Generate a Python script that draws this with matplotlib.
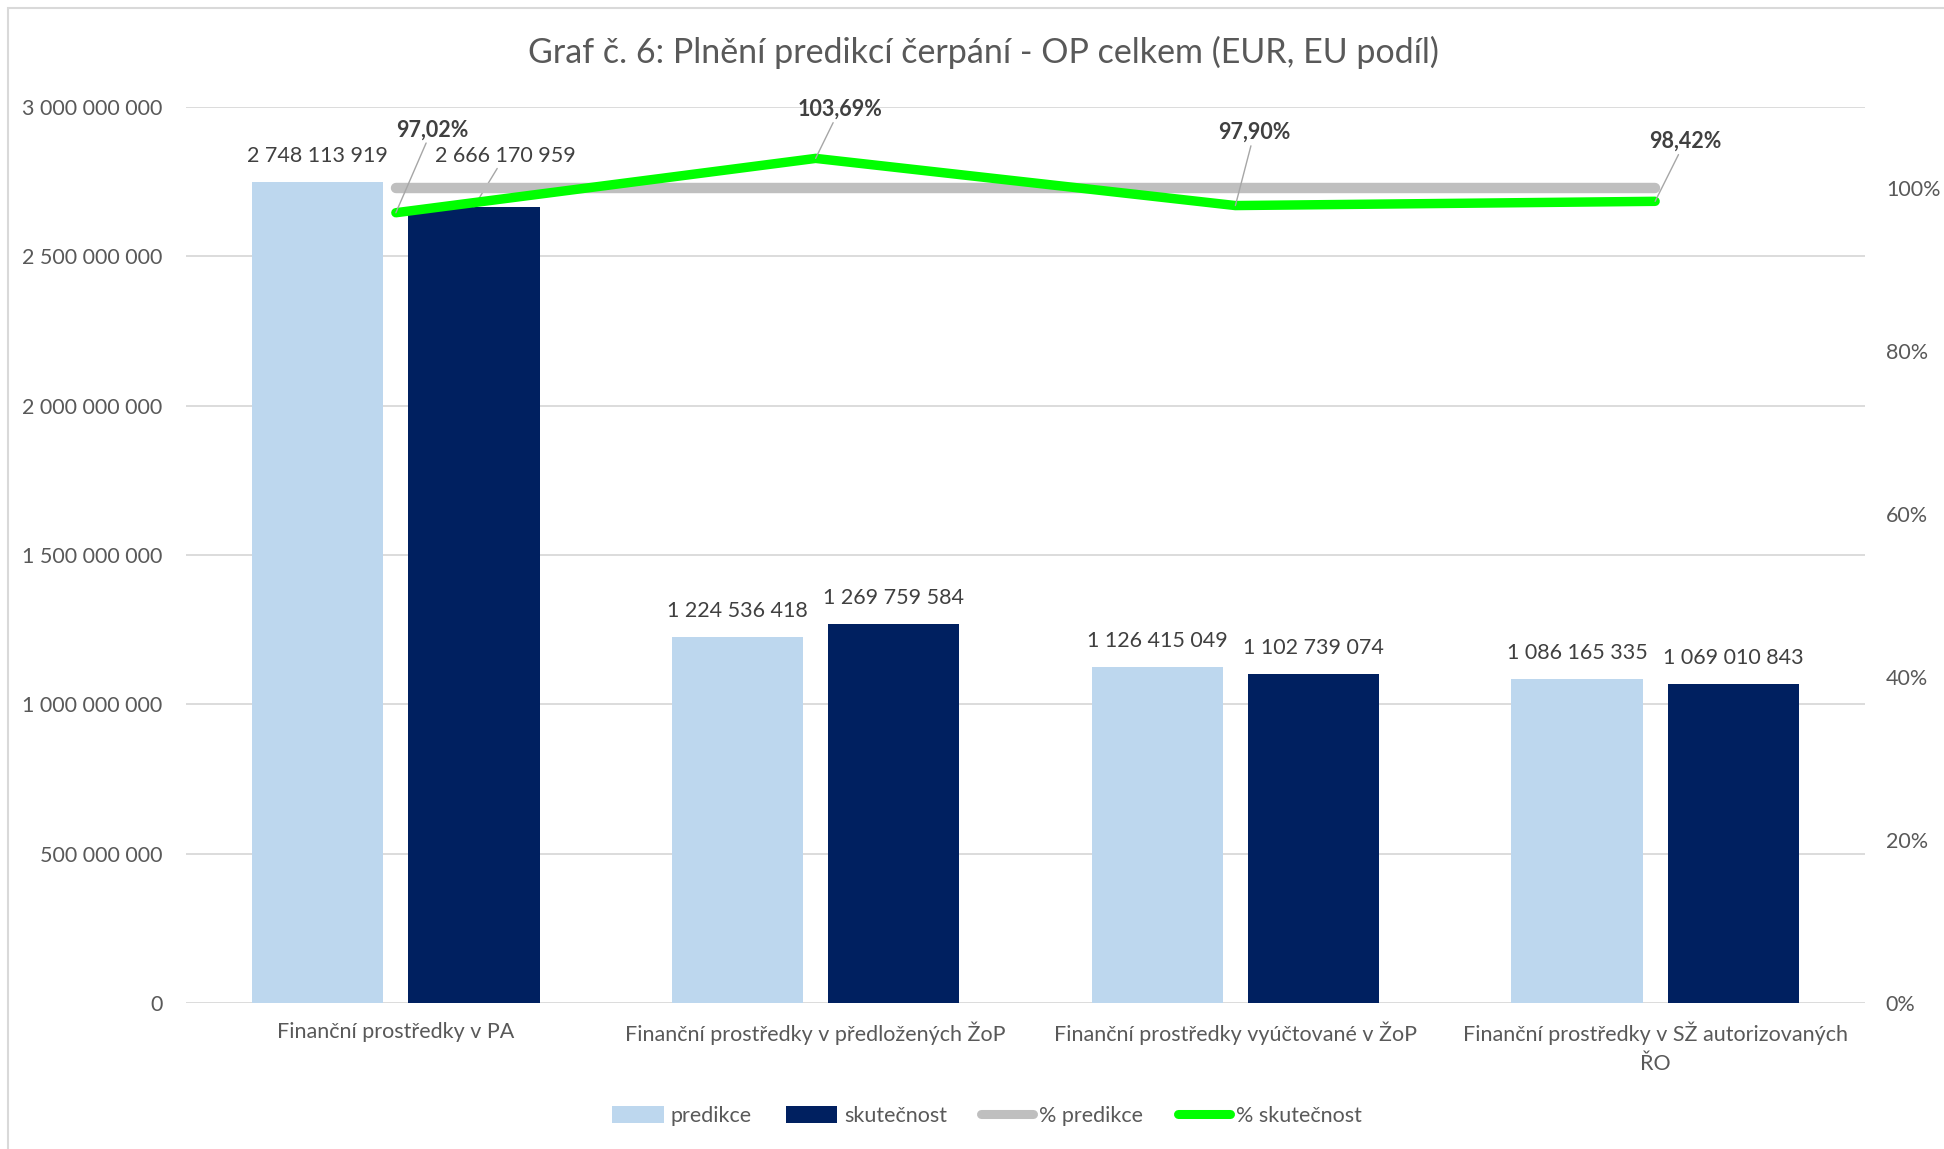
import matplotlib
matplotlib.use("Agg")
import matplotlib.pyplot as plt
from matplotlib.patches import Patch, Rectangle
from matplotlib.lines import Line2D
import numpy as np

plt.rcParams['font.family'] = ['Lato', 'DejaVu Sans']

# ---- data ----
categories = [
    "Finanční prostředky v PA",
    "Finanční prostředky v předložených ŽoP",
    "Finanční prostředky vyúčtované v ŽoP",
    "Finanční prostředky v SŽ autorizovaných\nŘO",
]
predikce = [2748113919, 1224536418, 1126415049, 1086165335]
skutecnost = [2666170959, 1269759584, 1102739074, 1069010843]
pct_predikce = [1.0, 1.0, 1.0, 1.0]
pct_skutecnost = [0.9702, 1.0369, 0.9790, 0.9842]
left_ticks = [0, 500000000, 1000000000, 1500000000, 2000000000, 2500000000, 3000000000]
right_ticks = [0, 0.2, 0.4, 0.6, 0.8, 1.0]
title = "Graf č. 6: Plnění predikcí čerpání - OP celkem (EUR, EU podíl)"

C_LIGHT = "#BDD7EE"
C_DARK = "#002060"
C_GRAY = "#BFBFBF"
C_GREEN = "#00FF00"
C_TXT = "#595959"
C_LBL = "#404040"
C_GRID = "#D9D9D9"

W, H = 1944, 1149
fig = plt.figure(figsize=(W / 100, H / 100), dpi=100)
ax = fig.add_axes([186 / W, 1 - 1003 / H, (1865 - 186) / W, (1003 - 107) / H])
ax2 = ax.twinx()

def fmt_num(v):
    return f"{v:,}".replace(",", " ")

def fmt_pct(v):
    return f"{v * 100:.2f}%".replace(".", ",")

x = np.arange(len(categories))
bw = 0.313
off = 0.186
b1 = ax.bar(x - off, predikce, bw, color=C_LIGHT, zorder=2)
b2 = ax.bar(x + off, skutecnost, bw, color=C_DARK, zorder=2)

ax.set_xlim(-0.5, len(categories) - 0.5)
ax.set_ylim(0, 3000000000)
ax.set_yticks(left_ticks)
ax.set_yticklabels([fmt_num(v) for v in left_ticks])
ax.yaxis.grid(True, color=C_GRID, lw=1.3, zorder=0)
ax.set_axisbelow(True)
ax.set_xticks(x)
ax.set_xticklabels(categories, linespacing=1.55)
for s in ax.spines.values():
    s.set_visible(False)
for s in ax2.spines.values():
    s.set_visible(False)
ax.tick_params(axis='y', length=0, pad=17, labelsize=15.5, labelcolor=C_TXT)
ax.tick_params(axis='x', length=0, pad=13.5, labelsize=15.5, labelcolor=C_TXT)

# bar labels
for i, (xi, v) in enumerate(zip(x - off, predikce)):
    ax.annotate(fmt_num(v), xy=(xi, v), xytext=(0, 26), textcoords='offset pixels',
                ha='center', va='center', fontsize=15.5, color=C_LBL)
for i, (xi, v) in enumerate(zip(x + off, skutecnost)):
    if i == 0:
        ax.annotate(fmt_num(v), xy=(xi, v), xytext=(31, 51), textcoords='offset pixels',
                    ha='center', va='center', fontsize=15.5, color=C_LBL,
                    arrowprops=dict(arrowstyle='-', color='#A6A6A6', lw=1.0,
                                    shrinkA=0, shrinkB=0))
    else:
        ax.annotate(fmt_num(v), xy=(xi, v), xytext=(0, 26), textcoords='offset pixels',
                    ha='center', va='center', fontsize=15.5, color=C_LBL)

# lines on secondary axis
ax2.plot(x, pct_predikce, color=C_GRAY, lw=7.5, solid_capstyle='round', zorder=3)
ax2.plot(x, pct_skutecnost, color=C_GREEN, lw=6.8, solid_capstyle='round',
         solid_joinstyle='miter', zorder=4)
ax2.set_ylim(0, 1.1)
ax2.set_yticks(right_ticks)
ax2.set_yticklabels([f"{int(round(v * 100))}%" for v in right_ticks])
ax2.tick_params(axis='y', length=0, pad=15, labelsize=15.5, labelcolor=C_TXT)

pct_offsets = [(36, 83), (24, 49), (19, 73), (30, 60)]
for xi, v, o in zip(x, pct_skutecnost, pct_offsets):
    ax2.annotate(fmt_pct(v), xy=(xi, v), xytext=o, textcoords='offset pixels',
                 ha='center', va='center', fontsize=15.5, fontweight='bold', color=C_LBL,
                 arrowprops=dict(arrowstyle='-', color='#A6A6A6', lw=1.0,
                                 shrinkA=0, shrinkB=0), zorder=5)

fig.text(983 / W, 1 - 52 / H, title, ha='center', va='center', fontsize=24.5, color=C_TXT)

handles = [
    Patch(facecolor=C_LIGHT, edgecolor='none'),
    Patch(facecolor=C_DARK, edgecolor='none'),
    Line2D([0], [0], color=C_GRAY, lw=6.5, solid_capstyle='round'),
    Line2D([0], [0], color=C_GREEN, lw=6.5, solid_capstyle='round'),
]
labels = ["predikce", "skutečnost", "% predikce", "% skutečnost"]
leg = fig.legend(handles, labels, loc='center', bbox_to_anchor=(987 / W, 1 - 1116 / H),
                 ncol=4, frameon=False, fontsize=15.5, handlelength=2.4, handleheight=0.8,
                 handletextpad=0.3, columnspacing=1.6)
for t in leg.get_texts():
    t.set_color(C_TXT)

fig.patches.append(Rectangle((7.5 / W, -0.01), 1.1, 1 - 7.5 / H + 0.01,
                             transform=fig.transFigure, fill=False,
                             edgecolor='#D9D9D9', lw=1.5))

fig.savefig("out.png", dpi=100, facecolor='white')
